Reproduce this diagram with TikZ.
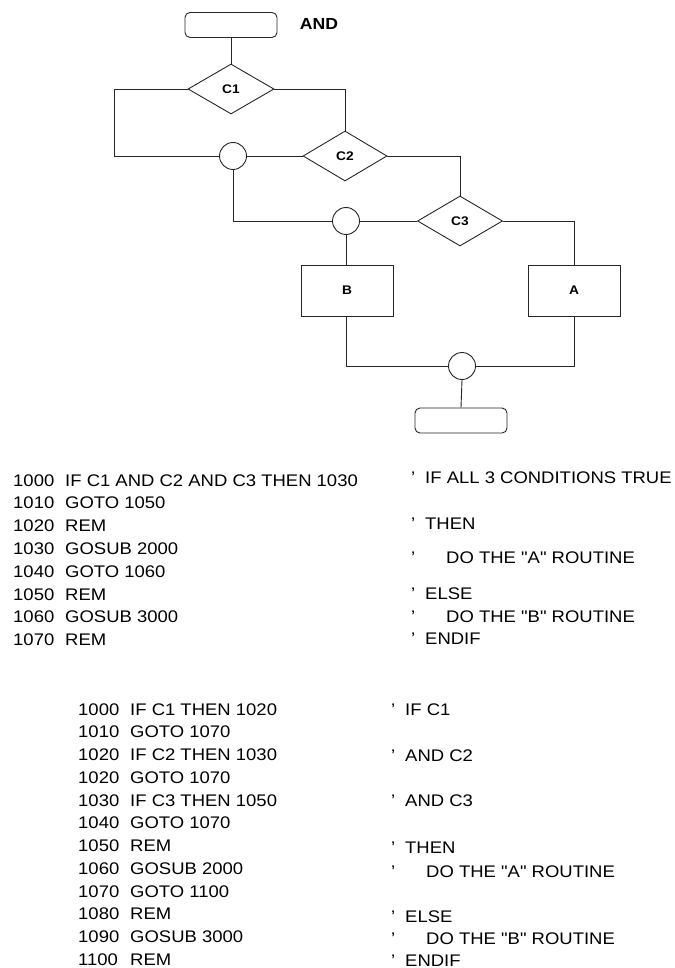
\documentclass[tikz,border=0pt]{standalone}
\usepackage{fontspec}
\setmainfont{Liberation Sans}[FakeStretch=1.1, Ligatures=TeXOff]
\usetikzlibrary{shapes.geometric}
\tikzset{
  fcline/.style={draw=black!85, line width=0.9pt},
  fcterm/.style={fcline, rectangle, rounded corners=5pt, minimum width=92pt, minimum height=25pt, inner sep=0pt},
  fcdec/.style={fcline, diamond, minimum width=86pt, minimum height=50pt, inner sep=0pt, font=\fontsize{12.5}{14}\selectfont\bfseries},
  fcjunc/.style={fcline, circle, minimum size=27pt, inner sep=0pt},
  fcproc/.style={fcline, rectangle, minimum width=92pt, minimum height=51pt, inner sep=0pt, font=\fontsize{12.5}{14}\selectfont\bfseries},
  codeline/.style={anchor=base west, inner sep=0pt, font=\fontsize{16.8}{18}\selectfont},
}
\newcommand\cnum[1]{\makebox[52pt][l]{#1}}
\newcommand\cmtA[1]{\makebox[14pt][l]{’}#1}
\newcommand\cmtB[1]{\makebox[35pt][l]{’}#1}
\begin{document}
\begin{tikzpicture}[x=1pt,y=-1pt]
\useasboundingbox (0,0) rectangle (674,968);
% flowchart
\node[fcterm] (t1) at (231,25) {};
\node[anchor=center, inner sep=0pt, font=\fontsize{16}{18}\selectfont\bfseries] (andlbl) at (319,24) {AND};
\node[fcdec] (C1) at (231,89) {C1};
\node[fcjunc] (c1) at (233,156) {};
\node[fcdec, minimum width=84pt] (C2) at (345,156) {C2};
\node[fcjunc] (c2) at (346,221) {};
\node[fcdec, minimum width=85pt] (C3) at (460,221) {C3};
\node[fcproc] (B) at (347,290.5) {B};
\node[fcproc] (A) at (574,290.5) {A};
\node[fcjunc] (c3) at (462,366) {};
\node[fcterm] (t2) at (461,420.5) {};
\coordinate (k1) at (114,156);
\draw[fcline] (t1.south) -- (C1.north);
\draw[fcline] (C1.west) -| (k1) -- (c1.west);
\draw[fcline] (C1.east) -| (C2.north);
\draw[fcline] (c1.east) -- (C2.west);
\draw[fcline] (C2.east) -| (C3.north);
\draw[fcline] (c1.south) |- (c2.west);
\draw[fcline] (c2.east) -- (C3.west);
\draw[fcline] (c2.south) -- (c2.south |- B.north);
\draw[fcline] (C3.east) -| (A.north);
\draw[fcline] (c2.south |- B.south) |- (c3.west);
\draw[fcline] (A.south) |- (c3.east);
\draw[fcline] (c3.south) -- (t2.north);
% block 1 code
\node[codeline] (p1) at (13,486.0) {\cnum{1000}IF C1 AND C2 AND C3 THEN 1030};
\node[codeline] (p2) at (13,508.8) {\cnum{1010}GOTO 1050};
\node[codeline] (p3) at (13,531.6) {\cnum{1020}REM};
\node[codeline] (p4) at (13,554.4) {\cnum{1030}GOSUB 2000};
\node[codeline] (p5) at (13,577.2) {\cnum{1040}GOTO 1060};
\node[codeline] (p6) at (13,600.0) {\cnum{1050}REM};
\node[codeline] (p7) at (13,622.8) {\cnum{1060}GOSUB 3000};
\node[codeline] (p8) at (13,645.6) {\cnum{1070}REM};
% block 1 comments
\node[codeline] (q1) at (411,483) {\cmtA{IF ALL 3 CONDITIONS TRUE}};
\node[codeline] (q2) at (411,529) {\cmtA{THEN}};
\node[codeline] (q3) at (411,563) {\cmtB{DO THE "A" ROUTINE}};
\node[codeline] (q4) at (411,599) {\cmtA{ELSE}};
\node[codeline] (q5) at (411,622) {\cmtB{DO THE "B" ROUTINE}};
\node[codeline] (q6) at (411,644) {\cmtA{ENDIF}};
% block 2 code
\node[codeline] (r1) at (78,715.00) {\cnum{1000}IF C1 THEN 1020};
\node[codeline] (r2) at (78,737.75) {\cnum{1010}GOTO 1070};
\node[codeline] (r3) at (78,760.50) {\cnum{1020}IF C2 THEN 1030};
\node[codeline] (r4) at (78,783.25) {\cnum{1020}GOTO 1070};
\node[codeline] (r5) at (78,806.00) {\cnum{1030}IF C3 THEN 1050};
\node[codeline] (r6) at (78,828.75) {\cnum{1040}GOTO 1070};
\node[codeline] (r7) at (78,851.50) {\cnum{1050}REM};
\node[codeline] (r8) at (78,874.25) {\cnum{1060}GOSUB 2000};
\node[codeline] (r9) at (78,897.00) {\cnum{1070}GOTO 1100};
\node[codeline] (r10) at (78,919.75) {\cnum{1080}REM};
\node[codeline] (r11) at (78,942.50) {\cnum{1090}GOSUB 3000};
\node[codeline] (r12) at (78,965.25) {\cnum{1100}REM};
% block 2 comments
\node[codeline] (s1) at (391,715) {\cmtA{IF C1}};
\node[codeline] (s2) at (391,761) {\cmtA{AND C2}};
\node[codeline] (s3) at (391,806) {\cmtA{AND C3}};
\node[codeline] (s4) at (391,853) {\cmtA{THEN}};
\node[codeline] (s5) at (391,877) {\cmtB{DO THE "A" ROUTINE}};
\node[codeline] (s6) at (391,922) {\cmtA{ELSE}};
\node[codeline] (s7) at (391,944) {\cmtB{DO THE "B" ROUTINE}};
\node[codeline] (s8) at (391,966) {\cmtA{ENDIF}};
\end{tikzpicture}
\end{document}
